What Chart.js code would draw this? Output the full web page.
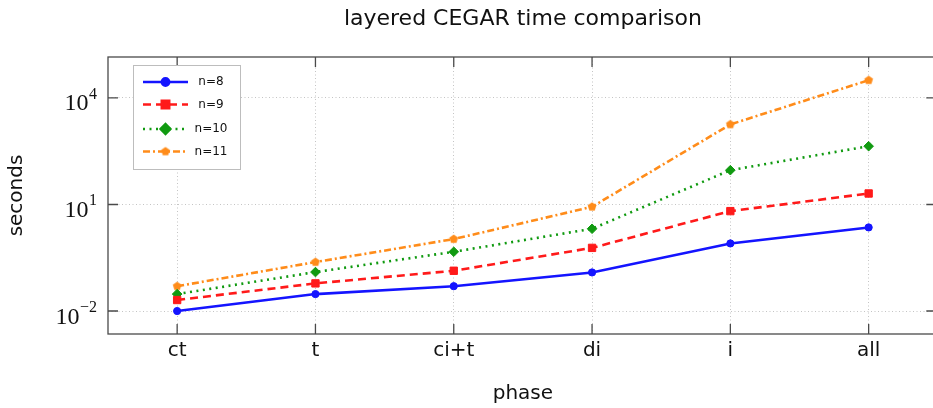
<!DOCTYPE html>
<html>
<head>
<meta charset="utf-8">
<script src="https://cdn.jsdelivr.net/npm/chart.js@4/dist/chart.umd.min.js"></script>
<style>
  html, body { margin: 0; padding: 0; background: #fff; }
  #wrap { width: 933px; height: 408px; overflow: hidden; position: relative; }
  #chart { display: block; }
</style>
</head>
<body>
<div id="wrap"><canvas id="chart" width="944" height="408"></canvas></div>
<script>
// ── data (log scale)
const phases  = ['ct', 't', 'ci+t', 'di', 'i', 'all'];
const n8      = [0.0100, 0.030, 0.050, 0.122, 0.80, 2.26];
const n9      = [0.0204, 0.060, 0.136, 0.60, 6.5, 20.4];
const n10     = [0.030, 0.125, 0.466, 2.07, 92.5, 438];
const n11     = [0.050, 0.239, 1.06, 8.6, 1795, 31600];
const yTicks  = [1e-2, 1e1, 1e4];
const yTickExp = ['\u22122', '1', '4'];

const SANS  = '"DejaVu Sans", sans-serif';
const SERIF = '"Liberation Serif", "DejaVu Serif", serif';

// ── pentagon marker for n=11
function pentagon(color, r) {
  const c = document.createElement('canvas');
  const s = Math.ceil(r * 2 + 2);
  c.width = s; c.height = s;
  const g = c.getContext('2d');
  g.beginPath();
  for (let k = 0; k < 5; k++) {
    const a = -Math.PI / 2 + k * 2 * Math.PI / 5;
    const px = s / 2 + r * Math.cos(a), py = s / 2 + r * Math.sin(a);
    k ? g.lineTo(px, py) : g.moveTo(px, py);
  }
  g.closePath();
  g.fillStyle = color;
  g.fill();
  return c;
}

const series = [
  { label: 'n=8',  data: n8,  color: '#1414ff', dash: [],           style: 'circle',  r: 3.6 },
  { label: 'n=9',  data: n9,  color: '#ff1a1a', dash: [8, 5],       style: 'rect',    r: 5.2 },
  { label: 'n=10', data: n10, color: '#109a10', dash: [2, 4.5],     style: 'rectRot', r: 4.8 },
  { label: 'n=11', data: n11, color: '#ff8c1a', dash: [7, 3, 2, 3], style: pentagon('#ff8c1a', 4.6), r: 4.6 },
];

// ── frame, inside ticks, y labels, legend
const decor = {
  id: 'decor',
  afterDraw(chart) {
    const { ctx, chartArea: a, scales: { x, y } } = chart;
    ctx.save();
    ctx.strokeStyle = '#4a4a4a';
    ctx.lineWidth = 1.3;
    ctx.strokeRect(a.left, a.top, a.right - a.left, a.bottom - a.top);
    const tl = 10;
    ctx.beginPath();
    phases.forEach((p, i) => {
      const px = x.getPixelForValue(i);
      ctx.moveTo(px, a.bottom); ctx.lineTo(px, a.bottom - tl);
      ctx.moveTo(px, a.top);    ctx.lineTo(px, a.top + tl);
    });
    yTicks.forEach(v => {
      const py = y.getPixelForValue(v);
      ctx.moveTo(a.left, py);  ctx.lineTo(a.left + tl, py);
      ctx.moveTo(a.right, py); ctx.lineTo(a.right - tl - 1.5, py);
    });
    ctx.stroke();

    // y tick labels 10^k
    ctx.fillStyle = '#111';
    ctx.textBaseline = 'alphabetic';
    ctx.textAlign = 'right';
    yTicks.forEach((v, i) => {
      const py = y.getPixelForValue(v);
      const right = a.left - 11;
      ctx.font = '16px ' + SERIF;
      const ew = ctx.measureText(yTickExp[i]).width;
      ctx.fillText(yTickExp[i], right, py + 1);
      ctx.font = '24px ' + SERIF;
      ctx.fillText('10', right - ew - 0.5, py + 12.5);
    });

    // legend
    const lx = 133, ly = 65, lw = 107, lh = 104;
    ctx.fillStyle = '#fff';
    ctx.fillRect(lx, ly, lw, lh);
    ctx.strokeStyle = '#bdbdbd';
    ctx.lineWidth = 1;
    ctx.strokeRect(lx + 0.5, ly + 0.5, lw, lh);
    const rows = [82, 104.5, 129, 151.5];
    chart.data.datasets.forEach((ds, i) => {
      const ry = rows[i];
      ctx.strokeStyle = ds.borderColor;
      ctx.lineWidth = ds.borderWidth;
      ctx.setLineDash(ds.borderDash);
      ctx.beginPath();
      ctx.moveTo(143, ry); ctx.lineTo(188, ry);
      ctx.stroke();
      ctx.setLineDash([]);
      ctx.fillStyle = ds.borderColor;
      Chart.helpers.drawPoint(ctx, { pointStyle: ds.pointStyle, radius: ds.pointRadius, rotation: 0, borderWidth: 1 }, 165.5, ry);
      ctx.fillStyle = '#111';
      ctx.font = '12px ' + SANS;
      ctx.textAlign = 'center';
      ctx.textBaseline = 'middle';
      ctx.fillText(ds.label, 211, ry);
    });
    ctx.restore();
  }
};

new Chart(document.getElementById('chart'), {
  type: 'line',
  data: {
    labels: phases,
    datasets: series.map(s => ({
      label: s.label,
      data: s.data,
      borderColor: s.color,
      backgroundColor: s.color,
      borderWidth: 2.6,
      borderDash: s.dash,
      pointStyle: s.style,
      pointRadius: s.r,
      pointBorderWidth: 1,
      tension: 0,
      fill: false
    }))
  },
  options: {
    responsive: false,
    animation: false,
    devicePixelRatio: 1,
    layout: { padding: { left: 0, right: 0.5, top: 0, bottom: 0 } },
    plugins: {
      legend: { display: false },
      tooltip: { enabled: false },
      title: {
        display: true,
        fullSize: false,
        text: 'layered CEGAR time comparison',
        color: '#111',
        font: { family: SANS, size: 22, weight: 'normal' },
        padding: { top: 6, bottom: 24.6 }
      }
    },
    scales: {
      x: {
        type: 'category',
        offset: true,
        grid: { offset: false, color: '#c4c4c4', drawTicks: false, lineWidth: 1 },
        border: { display: false, dash: [1, 2.5] },
        ticks: { color: '#111', font: { family: SANS, size: 20 }, padding: 5, maxRotation: 0 },
        title: { display: true, text: 'phase', color: '#111', font: { family: SANS, size: 20 }, padding: { top: 10, bottom: 2 } },
        afterFit: s => { s.height = 74; s.paddingLeft = 0; s.paddingRight = 0; }
      },
      y: {
        type: 'logarithmic',
        min: 0.002254,
        max: 142200,
        grid: { color: '#c4c4c4', drawTicks: false, lineWidth: 1 },
        border: { display: false, dash: [1, 2.5] },
        ticks: { callback: () => '', padding: 0 },
        afterBuildTicks: s => { s.ticks = yTicks.map(v => ({ value: v })); },
        title: { display: true, text: 'seconds', color: '#111', font: { family: SANS, size: 20 }, padding: { top: 5, bottom: 0 } },
        afterFit: s => { s.width = 108; }
      }
    }
  },
  plugins: [decor]
});
</script>
</body>
</html>
